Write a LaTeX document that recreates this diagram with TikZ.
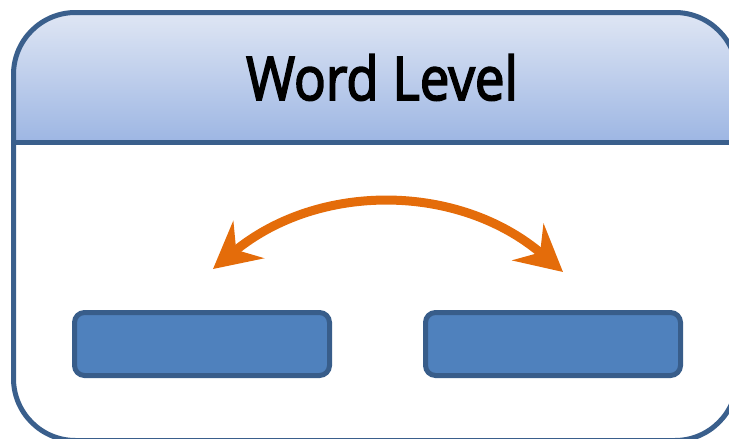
\documentclass[tikz,border=0pt]{standalone}
\usepackage{fontspec}
\setmainfont{Open Sans}
\newfontface\titlefont{Open Sans}[FakeBold=3]
\usetikzlibrary{arrows.meta}
\definecolor{frame}{HTML}{3A5F8C}
\definecolor{boxfill}{HTML}{4F81BD}
\definecolor{boxline}{HTML}{385D8A}
\definecolor{hdtop}{HTML}{DFE6F4}
\definecolor{hdbot}{HTML}{9DB6E3}
\definecolor{arrorange}{HTML}{E46C0A}
\tikzset{
  wordbox/.style={draw=boxline, fill=boxfill, line width=5pt, rounded corners=10pt},
  framestyle/.style={draw=frame, line width=5pt},
  swaparrow/.style={draw=arrorange, line width=9pt,
    {Stealth[length=46pt, width=48pt, inset=16pt]}-{Stealth[length=46pt, width=48pt, inset=16pt]}},
}
\begin{document}
\begin{tikzpicture}[x=1pt,y=1pt]
\useasboundingbox (0,0) rectangle (729,-439);
\clip (0,0) rectangle (729,-439);
% header gradient
\fill[top color=hdtop, bottom color=hdbot, rounded corners=62pt]
  (13.5,-142) -- (13.5,-12.5) -- (737,-12.5) [sharp corners] -- (737,-142) -- cycle;
% outer frame
\draw[framestyle, rounded corners=62pt] (13.5,-12.5) rectangle (737,-440.5);
\draw[framestyle] (13.5,-142) -- (737,-142);
% title
\node[anchor=base, inner sep=0pt, font=\titlefont\fontsize{52.8}{60}\selectfont] (title) at (382,-100)
  {\scalebox{1}[1.14]{Word Level}};
% boxes
\draw[wordbox] (74.5,-312.5) rectangle (329.5,-375.5);
\node[inner sep=0pt, minimum width=255pt, minimum height=63pt] (left) at (202,-344) {};
\draw[wordbox] (425.5,-312.5) rectangle (680.5,-375.5);
\node[inner sep=0pt, minimum width=255pt, minimum height=63pt] (right) at (553,-344) {};
% arrow
\coordinate (la) at (213,-269);
\coordinate (ra) at (563,-272);
\draw[swaparrow] (la) to[bend left=40] (ra);
\end{tikzpicture}
\end{document}
